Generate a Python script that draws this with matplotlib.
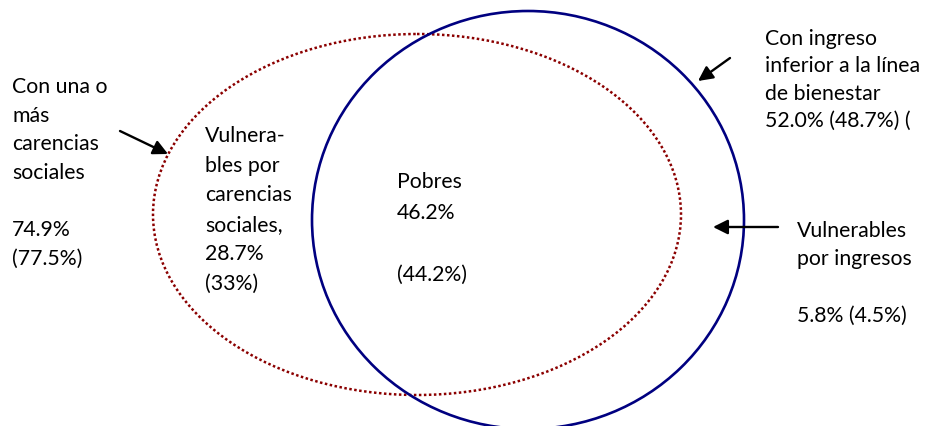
import matplotlib.pyplot as plt
from matplotlib.patches import Ellipse

# -----------------------------
# Chart content
# -----------------------------
label_carencias = ["Con una o", "más", "carencias", "sociales", "", "74.9%", "(77.5%)"]
label_vuln_car = ["Vulnera-", "bles por", "carencias", "sociales,", "28.7%", "(33%)"]
label_pobres = ["Pobres", "46.2%", "", "(44.2%)"]
label_ingreso = ["Con ingreso", "inferior a la línea", "de bienestar", "52.0% (48.7%) ("]
label_vuln_ing = ["Vulnerables", "por ingresos", "", "5.8% (4.5%)"]

W, H = 930, 427
fig = plt.figure(figsize=(W / 100, H / 100), dpi=100)
ax = fig.add_axes([0, 0, 1, 1])
ax.set_xlim(0, W)
ax.set_ylim(H, 0)
ax.axis("off")

# -----------------------------
# Sets
# -----------------------------
social = Ellipse((417, 215.5), 2 * 264, 2 * 180.5, fill=False,
                 edgecolor="#8B0000", lw=1.8, linestyle=(0, (1, 1)))
income = Ellipse((528, 221), 2 * 216, 2 * 209, fill=False,
                 edgecolor="#000080", lw=1.9)
ax.add_patch(social)
ax.add_patch(income)

# -----------------------------
# Labels
# -----------------------------
font = dict(family=["Lato", "DejaVu Sans"], fontsize=15.3, color="black")


def block(lines, x, y0, step):
    for i, s in enumerate(lines):
        ax.text(x, y0 + i * step, s, ha="left", va="baseline", **font)


block(label_carencias, 12, 93, 28.7)
block(label_vuln_car, 205, 142, 29.6)
block(label_pobres, 397, 188, 31)
block(label_ingreso, 765, 45, 27.3)
block(label_vuln_ing, 797, 237, 28.3)

# -----------------------------
# Arrows
# -----------------------------
arrow = dict(arrowstyle="-|>", color="black", lw=1.7, mutation_scale=22,
             shrinkA=0, shrinkB=0)
ax.annotate("", xy=(168, 155), xytext=(120, 132), arrowprops=arrow)
ax.annotate("", xy=(698, 82), xytext=(730, 59), arrowprops=arrow)
ax.annotate("", xy=(713, 228), xytext=(778, 228), arrowprops=arrow)

fig.savefig("out.png", dpi=100)
